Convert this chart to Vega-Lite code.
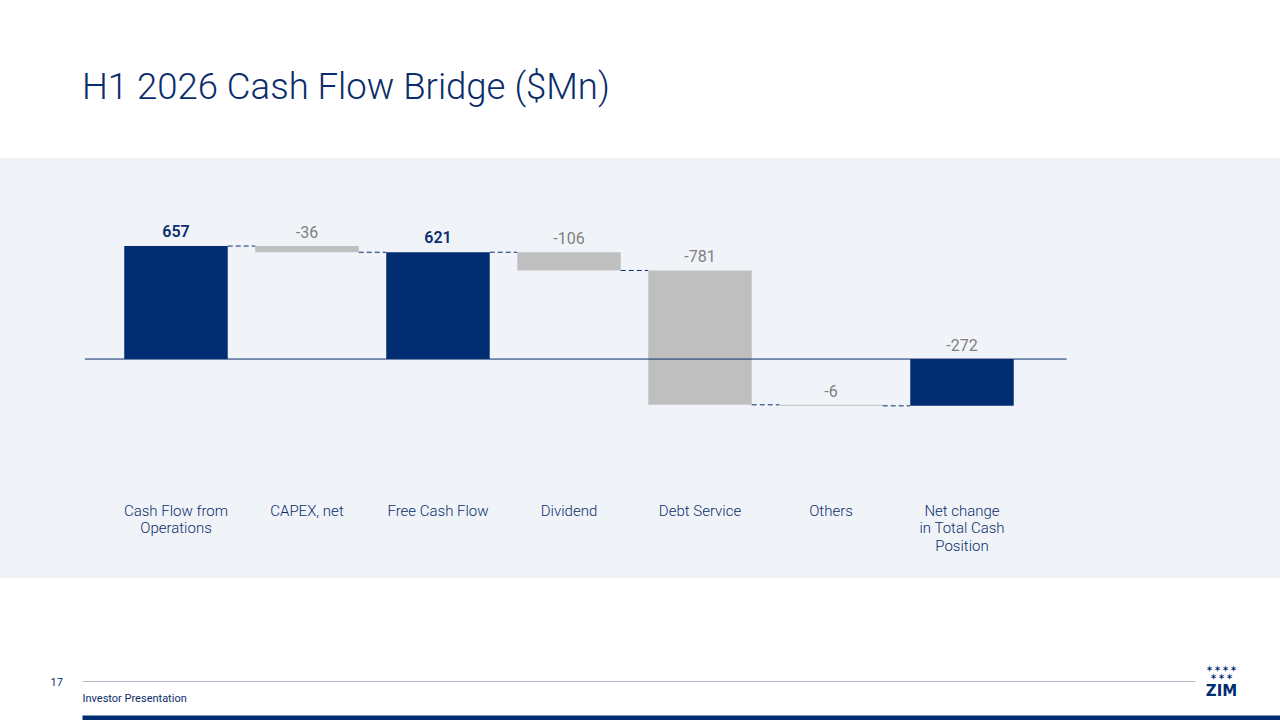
{
  "$schema": "https://vega.github.io/schema/vega-lite/v6.json",
  "width": 1280,
  "height": 420,
  "autosize": {"type": "none"},
  "padding": {"left": 0, "right": 0, "top": 158, "bottom": 142},
  "background": "white",
  "config": {"view": {"fill": "#f0f4f9", "stroke": null}, "font": "Roboto"},
  "title": {
    "text": "H1 2026 Cash Flow Bridge ($Mn)",
    "anchor": "start",
    "frame": "group",
    "dx": 82,
    "offset": 23,
    "fontSize": 36.5,
    "fontWeight": 300,
    "color": "#0b2d6b",
    "font": "Roboto",
    "baseline": "alphabetic"
  },
  "resolve": {"scale": {"x": "independent"}, "axis": {"x": "independent", "y": "independent"}},
  "datasets": {
    "bars": [
      {"cat": "Cash Flow from|Operations", "start": 0, "end": 657, "top": 657, "kind": "total", "label": "657"},
      {"cat": "CAPEX, net", "start": 657, "end": 621, "top": 657, "kind": "delta", "label": "-36"},
      {"cat": "Free Cash Flow", "start": 0, "end": 621, "top": 621, "kind": "total", "label": "621"},
      {"cat": "Dividend", "start": 621, "end": 515, "top": 621, "kind": "delta", "label": "-106"},
      {"cat": "Debt Service", "start": 515, "end": -266, "top": 515, "kind": "delta", "label": "-781"},
      {"cat": "Others", "start": -266, "end": -272, "top": -266, "kind": "delta", "label": "-6"},
      {"cat": "Net change|in Total Cash|Position", "start": 0, "end": -272, "top": 0, "kind": "total", "label": "-272"}
    ],
    "links": [
      {"from": "Cash Flow from|Operations", "to": "CAPEX, net", "level": 657},
      {"from": "CAPEX, net", "to": "Free Cash Flow", "level": 621},
      {"from": "Free Cash Flow", "to": "Dividend", "level": 621},
      {"from": "Dividend", "to": "Debt Service", "level": 515},
      {"from": "Debt Service", "to": "Others", "level": -266},
      {"from": "Others", "to": "Net change|in Total Cash|Position", "level": -272}
    ],
    "zero": [
      {"from": "Cash Flow from|Operations", "to": "Net change|in Total Cash|Position", "level": 0}
    ]
  },
  "layer": [
    {
      "layer": [
        {
          "data": {"name": "bars"},
          "mark": {"type": "bar", "cornerRadius": 0},
          "encoding": {
            "x": {
              "field": "cat",
              "type": "nominal",
              "sort": null,
              "scale": {
                "domain": ["Cash Flow from|Operations", "CAPEX, net", "Free Cash Flow", "Dividend", "Debt Service", "Others", "Net change|in Total Cash|Position"],
                "range": [82, 1195],
                "paddingInner": 0.21,
                "paddingOuter": 0.853,
                "align": 0.189
              },
              "axis": {
                "orient": "bottom",
                "offset": 103,
                "domain": true,
                "domainColor": "#b3bbc8",
                "domainWidth": 1,
                "ticks": false,
                "grid": false,
                "labelAngle": 0,
                "labelBaseline": "top",
                "labelPadding": -178,
                "labelFontSize": 15,
                "labelFont": "Roboto",
                "labelFontWeight": 300,
                "labelColor": "#0b2d6b",
                "labelLineHeight": 17.5,
                "labelOverlap": false,
                "labelLimit": 300,
                "labelExpr": "split(datum.value, '|')",
                "title": "Investor Presentation",
                "titleX": 82,
                "titleY": 20,
                "titleAlign": "left",
                "titleAnchor": "start",
                "titleBaseline": "alphabetic",
                "titleFontSize": 11,
                "titleFontWeight": 400,
                "titleFont": "Roboto",
                "titleColor": "#0b2d6b"
              }
            },
            "y": {
              "field": "start",
              "type": "quantitative",
              "scale": {"domain": [-1273, 1169], "nice": false, "zero": false},
              "axis": {
                "orient": "left",
                "labels": false,
                "ticks": false,
                "domain": false,
                "grid": false,
                "title": "17",
                "titleAngle": 0,
                "titleX": 50,
                "titleY": 527,
                "titleAlign": "left",
                "titleBaseline": "alphabetic",
                "titleFontSize": 11,
                "titleFontWeight": 400,
                "titleFont": "Roboto",
                "titleColor": "#0b2d6b"
              }
            },
            "y2": {"field": "end"},
            "color": {
              "field": "kind",
              "type": "nominal",
              "scale": {"domain": ["total", "delta"], "range": ["#002d72", "#bfbfbf"]},
              "legend": null
            }
          }
        },
        {
          "data": {"name": "links"},
          "mark": {"type": "rule", "color": "#0b2d6b", "strokeWidth": 1, "strokeDash": [5, 3]},
          "encoding": {
            "x": {"field": "from", "type": "nominal", "bandPosition": 1},
            "x2": {"field": "to", "bandPosition": 0},
            "y": {"field": "level", "type": "quantitative"}
          }
        },
        {
          "data": {"name": "bars"},
          "transform": [{"filter": "datum.kind == 'total' && datum.end > 0"}],
          "mark": {"type": "text", "baseline": "alphabetic", "dy": -9, "fontSize": 16, "fontWeight": 600, "color": "#0b2d6b", "font": "Roboto"},
          "encoding": {
            "x": {"field": "cat", "type": "nominal"},
            "y": {"field": "top", "type": "quantitative"},
            "text": {"field": "label", "type": "nominal"}
          }
        },
        {
          "data": {"name": "bars"},
          "transform": [{"filter": "!(datum.kind == 'total' && datum.end > 0)"}],
          "mark": {"type": "text", "baseline": "alphabetic", "dy": -8, "fontSize": 16, "fontWeight": 400, "color": "#7f7f7f", "font": "Roboto"},
          "encoding": {
            "x": {"field": "cat", "type": "nominal"},
            "y": {"field": "top", "type": "quantitative"},
            "text": {"field": "label", "type": "nominal"}
          }
        }
      ]
    },
    {
      "data": {"name": "zero"},
      "mark": {"type": "rule", "color": "#0b2d6b", "strokeWidth": 1},
      "encoding": {
        "x": {
          "field": "from",
          "type": "nominal",
          "bandPosition": 0.028,
          "scale": {
            "domain": ["Cash Flow from|Operations", "CAPEX, net", "Free Cash Flow", "Dividend", "Debt Service", "Others", "Net change|in Total Cash|Position"],
            "range": [82, 1280],
            "paddingInner": 0.21,
            "paddingOuter": 1,
            "align": 0
          },
          "axis": {
            "orient": "bottom",
            "offset": 139.5,
            "domain": true,
            "domainColor": "#002d72",
            "domainWidth": 5,
            "ticks": false,
            "labels": false,
            "grid": false,
            "title": ["✶✶✶✶", "✶✶✶"],
            "titleX": 1221,
            "titleY": -46.5,
            "titleAlign": "center",
            "titleBaseline": "alphabetic",
            "titleLineHeight": 8.5,
            "titleFontSize": 9.5,
            "titleFontWeight": "bold",
            "titleFont": "DejaVu Sans",
            "titleColor": "#002d72"
          }
        },
        "x2": {"field": "to", "bandPosition": 1.55},
        "y": {
          "field": "level",
          "type": "quantitative",
          "axis": {
            "orient": "right",
            "labels": false,
            "ticks": false,
            "domain": false,
            "grid": false,
            "title": "ZIM",
            "titleAngle": 0,
            "titleX": -59,
            "titleY": 537,
            "titleAlign": "center",
            "titleBaseline": "alphabetic",
            "titleFontSize": 15,
            "titleFontWeight": "bold",
            "titleFont": "DejaVu Sans",
            "titleColor": "#002d72"
          }
        }
      }
    }
  ]
}
